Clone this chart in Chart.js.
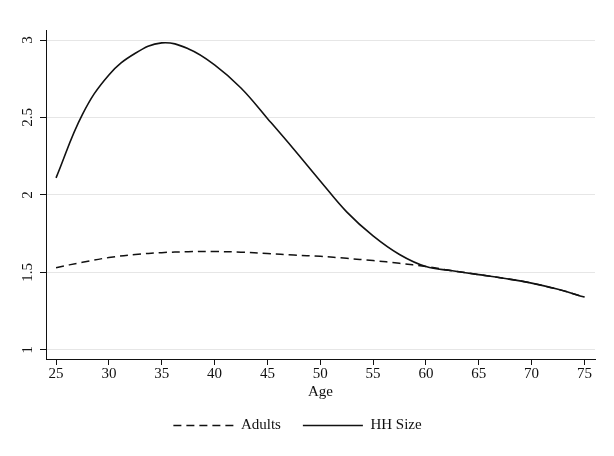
<!DOCTYPE html>
<html>
<head>
<meta charset="utf-8">
<script src="https://cdn.jsdelivr.net/npm/chart.js@4"></script>
<style>
  html, body { margin: 0; padding: 0; background: #fff; }
  #wrap { width: 614px; height: 456px; }
</style>
</head>
<body>
<div id="wrap"><canvas id="chart" width="614" height="456"></canvas></div>
<script>
// values, every 2.5 years of age
const ages = [25, 27.5, 30, 32.5, 35, 37.5, 40, 42.5, 45, 47.5, 50, 52.5, 55, 57.5, 60, 62.5, 65, 67.5, 70, 72.5, 75];
const adults = [1.53, 1.565, 1.595, 1.615, 1.627, 1.633, 1.634, 1.63, 1.621, 1.611, 1.603, 1.59, 1.576, 1.558, 1.537, 1.51, 1.485, 1.46, 1.43, 1.39, 1.34];
const hhSize = [2.11, 2.52, 2.775, 2.915, 2.982, 2.944, 2.84, 2.69, 2.494, 2.295, 2.09, 1.89, 1.735, 1.615, 1.537, 1.51, 1.485, 1.46, 1.43, 1.39, 1.34];
const xTicks = [25, 30, 35, 40, 45, 50, 55, 60, 65, 70, 75];
const yTicks = [1, 1.5, 2, 2.5, 3];

const font = { family: "'Liberation Serif', 'Times New Roman', serif", size: 15 };

const chartCanvas = document.getElementById("chart").getContext("2d");
new Chart(chartCanvas, {
  type: "line",
  data: {
    datasets: [
      {
        label: "Adults",
        data: ages.map((a, i) => ({ x: a, y: adults[i] })),
        borderColor: "#111",
        borderWidth: 1.5,
        borderDash: [8, 5],
        pointRadius: 0,
        tension: 0.4,
        fill: false
      },
      {
        label: "HH Size",
        data: ages.map((a, i) => ({ x: a, y: hhSize[i] })),
        borderColor: "#111",
        borderWidth: 1.6,
        pointRadius: 0,
        tension: 0.4,
        fill: false
      }
    ]
  },
  options: {
    responsive: false,
    animation: false,
    layout: { padding: { left: 0, right: 19, top: 30, bottom: 13 } },
    plugins: {
      tooltip: { enabled: false },
      legend: {
        position: "bottom",
        labels: {
          usePointStyle: true,
          pointStyle: "line",
          pointStyleWidth: 60,
          color: "#111",
          font: font,
          padding: 22,
          generateLabels: (chart) => {
            const items = Chart.defaults.plugins.legend.labels.generateLabels(chart);
            items.forEach((it) => {
              const ds = chart.data.datasets[it.datasetIndex];
              it.lineDash = ds.borderDash || [];
              it.lineWidth = ds.borderWidth;
              it.strokeStyle = ds.borderColor;
            });
            return items;
          }
        }
      }
    },
    scales: {
      x: {
        type: "linear",
        min: 24.05,
        max: 76,
        afterBuildTicks: (s) => { s.ticks = xTicks.map(v => ({ value: v })); },
        ticks: { color: "#111", font: font, padding: 0, maxRotation: 0 },
        grid: { drawOnChartArea: false, drawTicks: true, tickLength: 6, tickColor: "#111" },
        border: { display: true, color: "#111", width: 1 },
        title: { display: true, text: "Age", color: "#111", font: font, padding: { top: 0, bottom: -5 } }
      },
      y: {
        min: 0.94,
        max: 3.065,
        afterBuildTicks: (s) => { s.ticks = yTicks.map(v => ({ value: v })); },
        afterFit: (s) => { s.width = 46; },
        ticks: {
          color: "#111", font: font, padding: 3, minRotation: 90, maxRotation: 90,
          crossAlign: "center",
          callback: (v) => String(v)
        },
        grid: { color: "#e6e6e6", lineWidth: 1, drawTicks: true, tickLength: 6, tickColor: "#111" },
        border: { display: true, color: "#111", width: 1 }
      }
    }
  }
});
</script>
</body>
</html>
